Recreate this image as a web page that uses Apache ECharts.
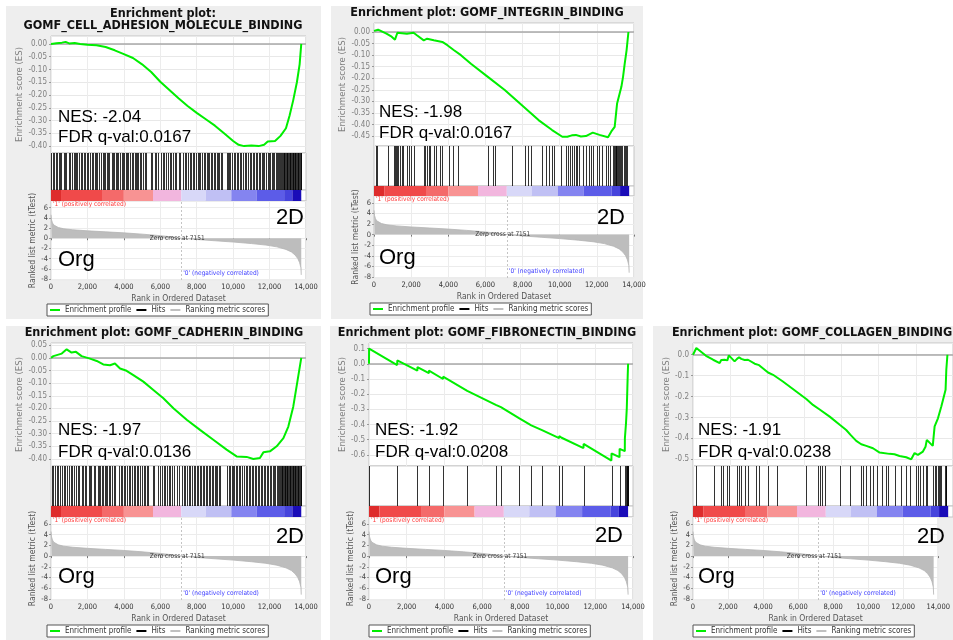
<!DOCTYPE html>
<html>
<head>
<meta charset="utf-8">
<script src="https://cdn.jsdelivr.net/npm/echarts@6/dist/echarts.min.js"></script>
<style>html,body{margin:0;padding:0;background:#fff}#chart{width:953px;height:640px}</style>
</head>
<body>
<div id="chart"></div>
<script>
// ---------------- DATA ----------------
const geneSetNames = ['GOMF_CELL_ADHESION_MOLECULE_BINDING','GOMF_INTEGRIN_BINDING','GOMF_CADHERIN_BINDING','GOMF_FIBRONECTIN_BINDING','GOMF_COLLAGEN_BINDING'];
const nesScores = ['-2.04','-1.98','-1.97','-1.92','-1.91'];
const fdrQValues = ['0.0167','0.0167','0.0136','0.0208','0.0238'];
const phenotypeTop = '2D';
const phenotypeBottom = 'Org';
const legendNames = ['Enrichment profile','Hits','Ranking metric scores'];
const xAxisTitle = 'Rank in Ordered Dataset';
const esAxisTitle = 'Enrichment score (ES)';
const rankAxisTitle = 'Ranked list metric (tTest)';
const posLabel = "'1' (positively correlated)";
const negLabel = "'0' (negatively correlated)";
const zeroCrossRank = 7151;

const cellAdhesionES = [[0,0],[300,0.003],[600,0.005],[800,0.008],[1000,0.002],[1300,0.004],[1600,0.0],[2000,-0.003],[2500,-0.005],[3000,-0.012],[3500,-0.025],[4000,-0.04],[4500,-0.055],[5000,-0.08],[5500,-0.11],[6000,-0.148],[6500,-0.18],[7000,-0.213],[7500,-0.243],[8000,-0.27],[8500,-0.295],[9000,-0.32],[9500,-0.35],[10000,-0.38],[10300,-0.395],[10600,-0.40],[11000,-0.398],[11400,-0.40],[11700,-0.395],[11900,-0.382],[12300,-0.38],[12600,-0.36],[12900,-0.33],[13100,-0.28],[13300,-0.22],[13500,-0.15],[13650,-0.08],[13740,0.0]];
const integrinES = [[0,0.005],[100,0.012],[220,0.01],[670,-0.007],[950,-0.02],[1130,-0.033],[1260,-0.003],[1770,-0.007],[2130,-0.003],[2310,-0.014],[2680,-0.036],[2860,-0.029],[3220,-0.036],[3680,-0.043],[3950,-0.057],[4310,-0.079],[4680,-0.1],[5220,-0.137],[6130,-0.194],[7040,-0.251],[7950,-0.316],[8860,-0.381],[9590,-0.424],[10140,-0.453],[10410,-0.453],[10650,-0.447],[10870,-0.445],[11140,-0.452],[11410,-0.45],[11780,-0.435],[12140,-0.445],[12600,-0.455],[12780,-0.43],[12960,-0.41],[13090,-0.309],[13320,-0.237],[13410,-0.194],[13500,-0.137],[13600,-0.079],[13700,0.0]];
const cadherinES = [[0,0],[130,0.007],[590,0.017],[860,0.034],[1130,0.021],[1370,0.024],[1680,0.007],[2140,-0.003],[2510,-0.012],[2870,-0.026],[3240,-0.029],[3510,-0.022],[3790,-0.042],[4150,-0.051],[4520,-0.068],[5070,-0.094],[5620,-0.127],[6170,-0.16],[6720,-0.199],[7450,-0.245],[8180,-0.285],[8910,-0.324],[9640,-0.363],[10190,-0.39],[10740,-0.392],[11110,-0.40],[11470,-0.396],[11660,-0.374],[12020,-0.37],[12390,-0.35],[12760,-0.318],[13030,-0.272],[13300,-0.193],[13540,-0.088],[13740,0.0]];
const fibronectinES = [[0,0],[5,0.1],[1495,-0.008],[1500,0.022],[2565,-0.045],[2570,-0.022],[3175,-0.062],[3180,-0.045],[3925,-0.1],[3930,-0.085],[5210,-0.178],[5215,-0.165],[6725,-0.27],[6730,-0.262],[6995,-0.285],[7000,-0.278],[7975,-0.36],[7980,-0.352],[8605,-0.405],[8610,-0.397],[9175,-0.437],[9180,-0.425],[10085,-0.49],[10090,-0.476],[10215,-0.487],[10220,-0.475],[11375,-0.555],[11380,-0.528],[12855,-0.637],[12860,-0.59],[13285,-0.615],[13290,-0.56],[13565,-0.575],[13570,-0.49],[13630,-0.39],[13670,-0.295],[13700,-0.165],[13720,-0.075],[13740,0.0]];
const collagenES = [[0,0],[50,-0.008],[180,0.032],[700,-0.005],[1080,-0.024],[1120,-0.016],[1435,-0.04],[1520,-0.025],[1610,-0.03],[1700,-0.024],[1850,-0.027],[1930,-0.003],[2240,-0.032],[2370,-0.02],[2480,-0.012],[2600,-0.02],[2780,-0.025],[2870,-0.032],[2960,-0.024],[3320,-0.043],[3560,-0.05],[4040,-0.085],[4310,-0.096],[4840,-0.128],[5560,-0.176],[6100,-0.212],[6460,-0.24],[6820,-0.262],[7360,-0.296],[7900,-0.335],[8250,-0.36],[8470,-0.382],[8790,-0.412],[9060,-0.428],[9330,-0.436],[9690,-0.447],[10050,-0.468],[10580,-0.474],[10850,-0.476],[11120,-0.484],[11480,-0.49],[11750,-0.5],[11930,-0.47],[12110,-0.479],[12380,-0.463],[12520,-0.44],[12590,-0.407],[12910,-0.436],[13010,-0.343],[13190,-0.304],[13370,-0.248],[13460,-0.216],[13540,-0.224],[13600,-0.168],[13640,-0.072],[13700,0.0]];

const cellAdhesionHits = [20,95,180,260,310,420,505,560,690,760,830,980,1050,1130,1240,1300,1380,1450,1560,1650,1720,1790,1880,1960,2050,2120,2240,2290,2400,2470,2530,2650,2720,2850,2900,2980,3060,3150,3210,3330,3400,3480,3560,3620,3700,3790,3880,3950,4030,4110,4160,4250,4330,4420,4480,4590,4650,4740,4800,4880,4950,5060,5150,5220,5480,5560,5700,5780,5900,6050,6150,6220,6300,6420,6510,6580,6700,6790,6880,7010,7100,7250,7330,7420,7500,7610,7680,7800,7870,7950,8060,8130,8200,8310,8390,8450,8560,8620,8700,8790,8850,8940,9030,9100,9160,9250,9320,9400,9660,9700,9780,9850,9940,10020,10090,10210,10280,10390,10450,10560,10640,10700,10810,10900,10960,11070,11150,11230,11300,11410,11480,11560,11650,11720,11800,11890,11960,12040,12110,12180,12260,12330,12400,12470,12530,12590,12640,12680,12730,12770,12810,12860,12900,12940,12980,13020,13060,13100,13140,13180,13220,13260,13300,13340,13380,13420,13460,13500,13540,13580,13620,13660,13700,13740];
const integrinHits = [91,164,764,1074,1128,1183,1256,1310,1401,1492,1583,1802,1911,1984,2166,2675,2766,2857,2948,3039,3221,3312,3549,3676,4040,4277,4532,6133,6406,6497,7407,8135,8317,8463,9045,9264,9409,9591,9682,10046,10356,10465,10538,10647,10774,10865,10956,11047,11229,11411,11593,11684,11775,11993,12139,12285,12467,12594,12722,12867,12904,12958,13013,13049,13086,13140,13195,13268,13322,13377,13450,13504,13559,13632];
const cadherinHits = [40,130,210,330,400,470,620,700,790,860,1000,1080,1150,1290,1360,1480,1550,1700,1770,1850,1940,2080,2150,2210,2350,2420,2570,2640,2700,2800,2870,2950,3010,3100,3180,3260,3340,3450,3520,3760,3850,3920,4010,4090,4180,4270,4340,4460,4530,4610,4700,4790,4870,5020,5100,5180,5260,5330,5600,5680,5850,5960,6080,6190,6280,6370,6480,6560,6650,6750,6920,7030,7180,7290,7380,7470,7560,7650,7740,7830,7920,8010,8090,8170,8250,8340,8410,8490,8580,8660,8740,8820,8900,8980,9060,9140,9210,9290,9660,9760,9840,9920,9990,10070,10160,10230,10340,10400,10510,10580,10690,10750,10860,10930,11030,11090,11200,11260,11370,11420,11530,11590,11700,11760,11860,11920,12020,12090,12170,12240,12320,12390,12460,12520,12570,12620,12660,12700,12740,12780,12820,12860,12900,12940,12980,13020,13060,13100,13140,13180,13220,13260,13300,13340,13380,13420,13460,13500,13540,13580,13620,13660,13700,13740];
const fibronectinHits = [5,1500,2570,3180,3930,5215,6730,7000,7980,8610,9180,10090,10220,11380,12860,13290,13570,13630,13670,13700,13720,13740];
const collagenHits = [144,1112,1525,1615,1848,1938,2368,2476,2601,2781,2960,3373,3552,4037,4539,6100,6728,6817,6961,7104,7894,8468,9060,9149,9293,9508,9688,9903,10190,10405,10495,10854,11177,11482,11661,11984,12110,12199,12379,12522,12594,12917,13006,13096,13186,13240,13312,13365,13545,13599,13635];

const rankedMetric = [[0,4.6],[30,3.6],[80,3.0],[150,2.6],[250,2.3],[400,2.1],[700,1.85],[1200,1.65],[2000,1.45],[3000,1.25],[4000,1.05],[5000,0.8],[6000,0.5],[6700,0.22],[7151,0],[8000,-0.25],[9000,-0.5],[10000,-0.75],[11000,-1.05],[11800,-1.35],[12400,-1.7],[12900,-2.2],[13200,-2.7],[13400,-3.3],[13550,-4.0],[13650,-4.8],[13720,-5.8],[13740,-7.2]];
const colorBarEdges = [0,550,2800,4000,5600,7150,8500,9900,11300,12800,13250,13740];

// ---------------- STYLE / LAYOUT ----------------
const colorBarPalette = ['#de2c2c','#f04a4a','#f46a6a','#f89393','#f2b6de','#d8d8f8','#c0c0f4','#8484f0','#5c5ce8','#4644dc','#1a0cb8'];
const FONT = '"DejaVu Sans Condensed","DejaVu Sans",sans-serif';
const BIG = '"Liberation Sans",Arial,sans-serif';
const esSets = [cellAdhesionES, integrinES, cadherinES, fibronectinES, collagenES];
const hitSets = [cellAdhesionHits, integrinHits, cadherinHits, fibronectinHits, collagenHits];

const layouts = [
  {bg:[6,6,315,313], twoLine:true, tx:163, ty:[14,26], left:51, width:255, es:[36,117], hits:[153,37], bar:[190,11], rank:[201,79], esRange:[-0.427,0.031], esSplit:9, dec:2, esGap:26, rankGap:12, legend:[47,304], nes:[58,117], fdr:[58,137], d2:[304,218], org:[58,260]},
  {bg:[331,6,312,313], twoLine:false, tx:487, ty:[13], left:374, width:260, es:[23,123], hits:[146,40], bar:[186,10], rank:[196,82], esRange:[-0.493,0.039], esSplit:10, dec:2, esGap:26, rankGap:12, legend:[370,303], nes:[379,112], fdr:[379,133], d2:[625,218], org:[379,258]},
  {bg:[6,326,315,314], twoLine:false, tx:164, ty:[333], left:51, width:255, es:[343,123], hits:[466,40], bar:[506,11], rank:[517,83], esRange:[-0.428,0.059], esSplit:9, dec:2, esGap:26, rankGap:12, legend:[47,625], nes:[58,430], fdr:[58,452], d2:[304,537], org:[58,577]},
  {bg:[330,326,313,314], twoLine:false, tx:487, ty:[333], left:369, width:264, es:[343,123], hits:[466,40], bar:[506,11], rank:[517,83], esRange:[-0.673,0.137], esSplit:8, dec:1, esGap:14, rankGap:12, legend:[369,625], nes:[375,430], fdr:[375,452], d2:[623,536], org:[375,577]},
  {bg:[653,326,310,314], twoLine:false, tx:812, ty:[333], left:693, width:261, es:[343,123], hits:[466,40], bar:[506,11], rank:[517,83], esRange:[-0.532,0.056], esSplit:6, dec:1, esGap:13, rankGap:11, legend:[693,625], nes:[698,430], fdr:[698,452], d2:[945,537], org:[698,577]}
];

const grids = [], xAxes = [], yAxes = [], series = [], legends = [], graphics = [];
const fmtRank = v => String(Math.round(v)).replace(/\B(?=(\d{3})+(?!\d))/g, ',');

layouts.forEach((L, p) => {
  const g0 = p * 4;
  const boxes = [L.es, L.hits, L.bar, L.rank];
  boxes.forEach(b => grids.push({left:L.left, top:b[0], width:L.width, height:b[1], show:true, backgroundColor:'#fff', borderColor:'#c4c4c4', borderWidth:1}));
  for (let k = 0; k < 4; k++) {
    const isRank = k === 3;
    xAxes.push({
      type:'value', gridIndex:g0 + k, min:0, max:14000, splitNumber:7,
      axisLine:{show:false},
      axisTick:{show:isRank, length:2, lineStyle:{color:'#777'}},
      axisLabel:{show:isRank, fontSize:7.5, color:'#333', margin:3, fontFamily:FONT, formatter:fmtRank},
      splitLine:{show:(k === 0 || k === 3), lineStyle:{color:'#ececec', width:1}},
      name:isRank ? xAxisTitle : '', nameLocation:'middle', nameGap:14,
      nameTextStyle:{fontSize:8.5, color:'#555', fontFamily:FONT}
    });
  }
  yAxes.push({
    type:'value', gridIndex:g0, min:L.esRange[0], max:L.esRange[1], splitNumber:L.esSplit,
    axisLine:{show:false}, axisTick:{show:true, length:2, lineStyle:{color:'#999'}},
    axisLabel:{fontSize:8, color:'#808080', margin:4, fontFamily:FONT, showMinLabel:false, showMaxLabel:false, formatter:v => v.toFixed(L.dec)},
    splitLine:{lineStyle:{color:'#e8e8e8', width:1}},
    name:esAxisTitle, nameLocation:'middle', nameGap:L.esGap,
    nameTextStyle:{fontSize:9.5, color:'#808080', fontFamily:FONT}
  });
  yAxes.push({type:'value', gridIndex:g0 + 1, min:0, max:1, show:false, splitLine:{show:false}});
  yAxes.push({type:'value', gridIndex:g0 + 2, min:0, max:1, show:false, splitLine:{show:false}});
  yAxes.push({
    type:'value', gridIndex:g0 + 3, min:-8.2, max:7.3, splitNumber:7,
    axisLine:{show:false}, axisTick:{show:true, length:2, lineStyle:{color:'#999'}},
    axisLabel:{fontSize:7.5, color:'#444', margin:3, fontFamily:FONT, showMinLabel:false, showMaxLabel:false, formatter:v => String(Math.round(v))},
    splitLine:{lineStyle:{color:'#ececec', width:1}},
    name:rankAxisTitle, nameLocation:'middle', nameGap:L.rankGap,
    nameTextStyle:{fontSize:8.5, color:'#555', fontFamily:FONT}
  });

  series.push({
    name:legendNames[0], type:'line', xAxisIndex:g0, yAxisIndex:g0, data:esSets[p],
    showSymbol:false, symbol:'none', lineStyle:{color:'#00ee00', width:2}, itemStyle:{color:'#00ee00'}, z:5,
    markLine:{silent:true, symbol:['none','none'], label:{show:false}, lineStyle:{color:'#a9a9a9', width:1.5, type:'solid'}, data:[{yAxis:0}], z:3}
  });
  series.push({
    name:legendNames[1], type:'custom', xAxisIndex:g0 + 1, yAxisIndex:g0 + 1,
    data:hitSets[p].map(r => [r, 1]), encode:{x:0, y:1}, itemStyle:{color:'#000'},
    renderItem:(params, api) => {
      const top = api.coord([api.value(0), 1]);
      const bot = api.coord([api.value(0), 0]);
      const x = Math.round(top[0]) + 0.5;
      return {type:'line', shape:{x1:x, y1:top[1], x2:x, y2:bot[1]}, style:{stroke:'#000', lineWidth:1, opacity:0.8}};
    }
  });
  series.push({
    type:'custom', xAxisIndex:g0 + 2, yAxisIndex:g0 + 2, silent:true,
    data:colorBarEdges.slice(0, -1).map((e, i) => [e, colorBarEdges[i + 1], i]), encode:{x:[0,1]},
    renderItem:(params, api) => {
      const a = api.coord([api.value(0), 1]);
      const b = api.coord([api.value(1), 0]);
      return {type:'rect', shape:{x:a[0], y:a[1], width:b[0] - a[0], height:b[1] - a[1]}, style:{fill:colorBarPalette[api.value(2)]}};
    }
  });
  series.push({
    name:legendNames[2], type:'line', xAxisIndex:g0 + 3, yAxisIndex:g0 + 3, data:rankedMetric,
    showSymbol:false, symbol:'none', lineStyle:{color:'#b4b4b4', width:0.8}, itemStyle:{color:'#c0c0c0'},
    areaStyle:{color:'#bdbdbd', opacity:1},
    markLine:{silent:true, symbol:['none','none'], label:{show:false}, lineStyle:{color:'#c4c4c4', width:1, type:[2,2]}, data:[{xAxis:zeroCrossRank}]},
    markPoint:{silent:true, symbol:'circle', symbolSize:0, data:[
      {coord:[zeroCrossRank, 0], label:{show:true, position:'inside', offset:[-4,0], formatter:'Zero cross at ' + zeroCrossRank, fontSize:6.5, color:'#333', fontFamily:FONT}},
      {coord:[0, 6.6], label:{show:true, position:'right', distance:2, formatter:posLabel, fontSize:6.5, color:'#ff3a3a', fontFamily:FONT}},
      {coord:[zeroCrossRank, -6.9], label:{show:true, position:'right', distance:2, formatter:negLabel, fontSize:6.5, color:'#4040ff', fontFamily:FONT}}
    ]}
  });

  legends.push({
    left:L.legend[0], top:L.legend[1], orient:'horizontal', selectedMode:false,
    data:legendNames.map(n => ({name:n, icon:'rect'})),
    itemWidth:10, itemHeight:2, itemGap:5, padding:[2,3],
    borderColor:'#555', borderWidth:1, backgroundColor:'#fff',
    textStyle:{fontSize:8, color:'#333', fontFamily:FONT}
  });

  graphics.push({type:'rect', z:-100, shape:{x:L.bg[0], y:L.bg[1], width:L.bg[2], height:L.bg[3]}, style:{fill:'#eeeeee'}});
  const titleStyle = {fill:'#111', fontSize:12.5, fontWeight:'bold', fontFamily:FONT, align:'center', verticalAlign:'middle'};
  if (L.twoLine) {
    graphics.push({type:'text', z:100, x:L.tx, y:L.ty[0], style:Object.assign({text:'Enrichment plot:'}, titleStyle)});
    graphics.push({type:'text', z:100, x:L.tx, y:L.ty[1], style:Object.assign({text:geneSetNames[p]}, titleStyle)});
  } else {
    graphics.push({type:'text', z:100, x:L.tx, y:L.ty[0], style:Object.assign({text:'Enrichment plot: ' + geneSetNames[p]}, titleStyle)});
  }
  const big = {fill:'#000', fontFamily:BIG, verticalAlign:'middle'};
  graphics.push({type:'text', z:100, x:L.nes[0], y:L.nes[1], style:Object.assign({text:'NES: ' + nesScores[p], fontSize:17, align:'left'}, big)});
  graphics.push({type:'text', z:100, x:L.fdr[0], y:L.fdr[1], style:Object.assign({text:'FDR q-val:' + fdrQValues[p], fontSize:17, align:'left'}, big)});
  graphics.push({type:'text', z:100, x:L.d2[0], y:L.d2[1], style:Object.assign({text:phenotypeTop, fontSize:22, align:'right'}, big)});
  graphics.push({type:'text', z:100, x:L.org[0], y:L.org[1], style:Object.assign({text:phenotypeBottom, fontSize:22, align:'left'}, big)});
});

const chart = echarts.init(document.getElementById('chart'), null, {renderer:'canvas'});
chart.setOption({
  animation:false,
  backgroundColor:'#ffffff',
  grid:grids, xAxis:xAxes, yAxis:yAxes, series:series, legend:legends,
  graphic:{elements:graphics}
});
</script>
</body>
</html>
